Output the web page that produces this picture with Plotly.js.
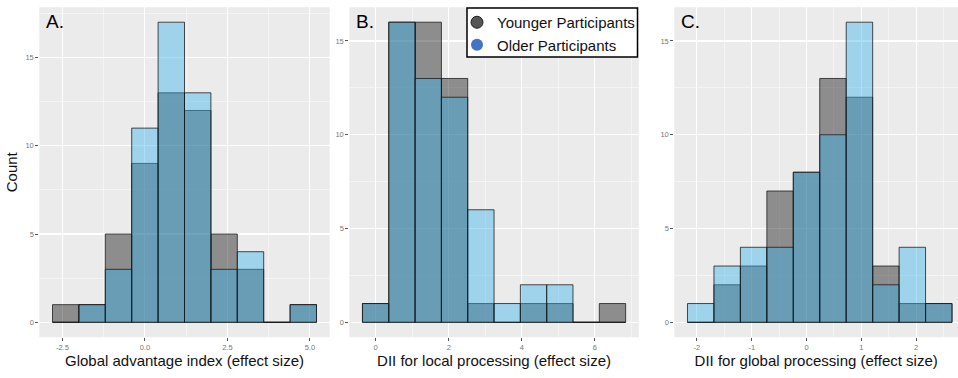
<!DOCTYPE html>
<html>
<head>
<meta charset="utf-8">
<script src="https://cdn.plot.ly/plotly-3.0.1.min.js"></script>
<style>html,body{margin:0;padding:0;background:#fff;}#chart{width:958px;height:378px;}</style>
</head>
<body>
<div id="chart"></div>
<script>
// ---- Data ----
// Panel A: Global advantage index (effect size), bin width 0.8
const binCentersA = [-2.4, -1.6, -0.8, 0, 0.8, 1.6, 2.4, 3.2, 4.0, 4.8];
const youngerA    = [1, 1, 5, 9, 13, 12, 5, 3, 0, 1];
const olderA      = [0, 1, 3, 11, 17, 13, 3, 4, 0, 1];
const binWidthA   = 0.8;
const tickValsA   = [-2.5, 0, 2.5, 5];
const tickTextA   = ['-2.5', '0.0', '2.5', '5.0'];

// Panel B: DII for local processing (effect size), bin width 0.72
const binCentersB = [0, 0.72, 1.44, 2.16, 2.88, 3.60, 4.32, 5.04, 5.76, 6.48];
const youngerB    = [1, 16, 16, 13, 1, 0, 1, 1, 0, 1];
const olderB      = [1, 16, 13, 12, 6, 1, 2, 2, 0, 0];
const binWidthB   = 0.72;
const tickValsB   = [0, 2, 4, 6];
const tickTextB   = ['0', '2', '4', '6'];

// Panel C: DII for global processing (effect size), bin width 0.4825
const binCentersC = [-1.93, -1.4475, -0.965, -0.4825, 0, 0.4825, 0.965, 1.4475, 1.93, 2.4125];
const youngerC    = [0, 2, 3, 7, 8, 13, 12, 3, 1, 1];
const olderC      = [1, 3, 4, 4, 8, 10, 16, 2, 4, 1];
const binWidthC   = 0.4825;
const tickValsC   = [-2, -1, 0, 1, 2];
const tickTextC   = ['-2', '-1', '0', '1', '2'];

const yTickVals = [0, 5, 10, 15];
const yTickText = ['0', '5', '10', '15'];

const groupNames = ['Younger Participants', 'Older Participants'];
const panelLabels = ['A.', 'B.', 'C.'];
const xTitles = ['Global advantage index (effect size)', 'DII for local processing (effect size)', 'DII for global processing (effect size)'];

// ---- Styles ----
const FONT = 'Liberation Sans, Arial, sans-serif';
const W = 958, H = 378;
const grayFill = 'rgba(0,0,0,0.40)';
const blueFill = 'rgba(56,176,235,0.42)';
const barLine = {color: 'rgba(20,20,20,0.75)', width: 1};

function barTrace(x, y, w, fill, ax, name) {
  return {type: 'bar', x: x, y: y, width: w, name: name, showlegend: false,
    marker: {color: fill, line: barLine}, xaxis: 'x' + ax, yaxis: 'y' + ax, hoverinfo: 'x+y'};
}

const traces = [
  barTrace(binCentersA, youngerA, binWidthA, grayFill, '', groupNames[0]),
  barTrace(binCentersA, olderA,   binWidthA, blueFill, '', groupNames[1]),
  barTrace(binCentersB, youngerB, binWidthB, grayFill, '2', groupNames[0]),
  barTrace(binCentersB, olderB,   binWidthB, blueFill, '2', groupNames[1]),
  barTrace(binCentersC, youngerC, binWidthC, grayFill, '3', groupNames[0]),
  barTrace(binCentersC, olderC,   binWidthC, blueFill, '3', groupNames[1]),
  {type: 'scatter', mode: 'markers', x: [null], y: [null], name: groupNames[0], xaxis: 'x2', yaxis: 'y2',
    marker: {size: 12, color: '#555555', line: {color: '#222', width: 1}}},
  {type: 'scatter', mode: 'markers', x: [null], y: [null], name: groupNames[1], xaxis: 'x2', yaxis: 'y2',
    marker: {size: 12, color: '#4472C4', line: {width: 0}}}
];

const yDom = [1 - 337.3 / H, 1 - 7.2 / H];

function xAxis(dom, range, tv, tt, minorDtick, title) {
  return {
    domain: dom, range: range, tickmode: 'array', tickvals: tv, ticktext: tt,
    ticks: 'outside', ticklen: 3, tickwidth: 1, tickcolor: '#555',
    tickfont: {family: FONT, size: 7.5, color: '#777'},
    showgrid: true, gridcolor: '#ffffff', gridwidth: 1.1,
    minor: {tickmode: 'linear', tick0: 0, dtick: minorDtick, showgrid: true, gridcolor: 'rgba(255,255,255,0.75)', gridwidth: 0.6, ticks: ''},
    zeroline: false, showline: false, fixedrange: true, automargin: false,
    title: {text: title, font: {family: FONT, size: 15, color: '#111'}, standoff: 3}
  };
}
function yAxis(range, anchor, title) {
  return {
    domain: yDom, range: range, anchor: anchor, tickmode: 'array', tickvals: yTickVals, ticktext: yTickText,
    ticks: 'outside', ticklen: 3, tickwidth: 1, tickcolor: '#555',
    tickfont: {family: FONT, size: 7.5, color: '#777'},
    showgrid: true, gridcolor: '#ffffff', gridwidth: 1.1,
    minor: {tickmode: 'linear', tick0: 0, dtick: 2.5, showgrid: true, gridcolor: 'rgba(255,255,255,0.75)', gridwidth: 0.6, ticks: ''},
    zeroline: false, showline: false, fixedrange: true, automargin: false,
    title: title ? {text: title, font: {family: FONT, size: 15, color: '#111'}, standoff: 4} : {text: ''}
  };
}

const xA = xAxis([39.3 / W, 329.7 / W], [-3.2, 5.6], tickValsA, tickTextA, 1.25, xTitles[0]);
xA.anchor = 'y';
const xB = xAxis([349.3 / W, 638.8 / W], [-0.72, 7.2], tickValsB, tickTextB, 1, xTitles[1]);
xB.anchor = 'y2';
const xC = xAxis([674.3 / W, 1], [-2.412, 2.763], tickValsC, tickTextC, 0.5, xTitles[2]);
xC.anchor = 'y3';

function panelLabel(txt, xref) {
  return {text: txt, xref: xref + ' domain', yref: 'paper', x: 0, xshift: 5, y: 1 - 21.5 / H,
    xanchor: 'left', yanchor: 'middle', showarrow: false, font: {family: FONT, size: 19, color: '#000'}};
}

const layout = {
  width: W, height: H, margin: {l: 0, r: 0, t: 0, b: 0},
  paper_bgcolor: '#ffffff', plot_bgcolor: '#EBEBEB',
  barmode: 'overlay', bargap: 0,
  font: {family: FONT},
  xaxis: xA, yaxis: yAxis([-0.85, 17.85], 'x', 'Count'),
  xaxis2: xB, yaxis2: yAxis([-0.8, 16.8], 'x2', ''),
  xaxis3: xC, yaxis3: yAxis([-0.8, 16.8], 'x3', ''),
  showlegend: true,
  legend: {x: 457 / W, y: 1 - 6 / H, xanchor: 'left', yanchor: 'top', bgcolor: 'rgba(0,0,0,0)', borderwidth: 0,
    font: {family: FONT, size: 15, color: '#111'}, itemclick: false, itemdoubleclick: false},
  shapes: [{type: 'rect', xref: 'paper', yref: 'paper', x0: 467 / W, x1: 637.5 / W, y0: 1 - 57 / H, y1: 1 - 8 / H,
    line: {color: '#000', width: 1.5}, fillcolor: '#ffffff', layer: 'above'}],
  annotations: [panelLabel(panelLabels[0], 'x'), panelLabel(panelLabels[1], 'x2'), panelLabel(panelLabels[2], 'x3')]
};

Plotly.newPlot('chart', traces, layout, {displayModeBar: false, staticPlot: true});
</script>
</body>
</html>
